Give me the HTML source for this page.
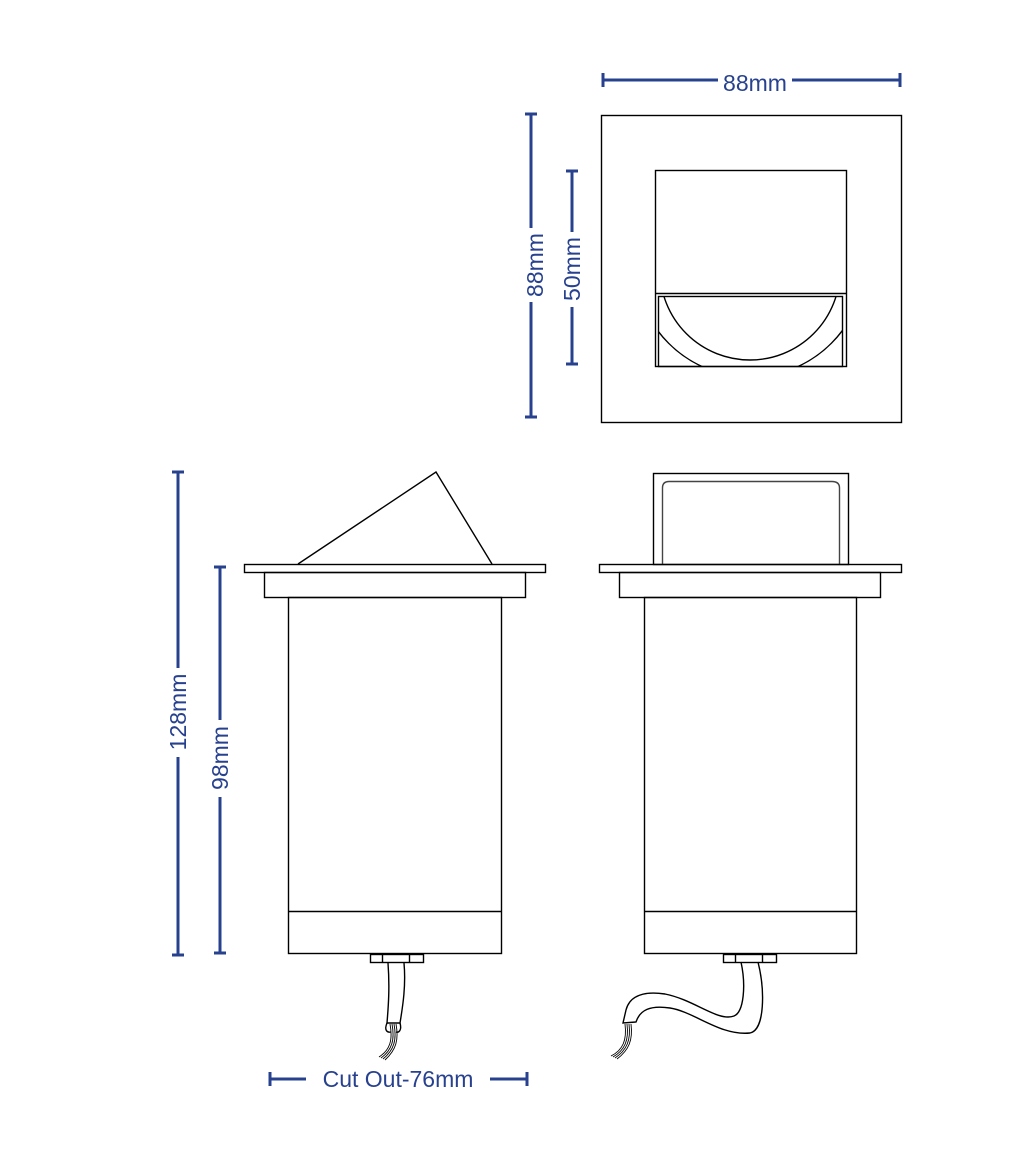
<!DOCTYPE html>
<html><head><style>
html,body{margin:0;padding:0;background:#fff;}
svg{display:block;}
text{font-family:"Liberation Sans",sans-serif;font-size:23px;fill:#27418f;}
</style></head><body>
<svg width="1031" height="1174" viewBox="0 0 1031 1174" xmlns="http://www.w3.org/2000/svg">
<defs><clipPath id="c"><rect x="658" y="296" width="184" height="70"/></clipPath></defs>
<g stroke="#000" stroke-width="1.4" fill="none">
<!-- top view -->
<rect x="601.5" y="115.5" width="300" height="307"/>
<rect x="655.5" y="170.5" width="191" height="196"/>
<line x1="655" y1="293.5" x2="847" y2="293.5"/>
<rect x="658.5" y="296.5" width="184" height="70"/>
<g clip-path="url(#c)">
<circle cx="750" cy="270" r="90"/>
<circle cx="750" cy="262" r="115"/>
</g>
<!-- left side -->
<polyline points="298,564 436,472 492,564"/>
<rect x="244.5" y="564.5" width="301" height="8"/>
<rect x="264.5" y="572.5" width="261" height="25"/>
<rect x="288.5" y="597.5" width="213" height="356"/>
<line x1="288" y1="911.5" x2="501" y2="911.5"/>
<rect x="370.5" y="954.5" width="53" height="8"/>
<line x1="382.5" y1="954" x2="382.5" y2="962"/><line x1="409.5" y1="954" x2="409.5" y2="962"/>
<path d="M388,963 C390,990 388,1010 387,1023 L400,1023 C403,1005 406,985 404,963"/>
<path d="M387,1023 C384,1030 387,1033 391,1032 M400,1023 C402,1030 399,1033 396,1032"/>
<path d="M392,1024 C395,1040 392,1050 381,1058 M394,1024 C397,1040 394,1050 383,1059 M396,1024 C399,1040 396,1050 385,1060 M390,1024 C393,1040 390,1050 379,1057" stroke-width="0.9"/>
<!-- right side -->
<rect x="653.5" y="473.5" width="195" height="91"/>
<path d="M662.5,564 L662.5,488 Q662.5,481.5 669,481.5 L832,481.5 Q839.5,481.5 839.5,488 L839.5,564" stroke="#444"/>
<rect x="599.5" y="564.5" width="302" height="8"/>
<rect x="619.5" y="572.5" width="261" height="25"/>
<rect x="644.5" y="597.5" width="212" height="356"/>
<line x1="644" y1="911.5" x2="856" y2="911.5"/>
<rect x="723.5" y="954.5" width="53" height="8"/>
<line x1="735.5" y1="954" x2="735.5" y2="962"/><line x1="762.5" y1="954" x2="762.5" y2="962"/>
<path d="M741,962 C746,985 744,1012 734,1016 C718,1022 695,1000 665,994 C645,991 630,995 626,1010 L623,1023 L636,1022 C640,1010 650,1005 670,1008 C695,1012 720,1036 750,1033 C765,1030 765,990 758,962"/>
<path d="M627,1024 C629,1040 625,1050 613,1057 M629,1024 C631,1040 627,1050 615,1058 M631,1024 C633,1040 629,1050 617,1059 M625,1024 C627,1040 623,1050 611,1056" stroke-width="0.9"/>
</g>
<!-- dimensions -->
<g stroke="#27418f" stroke-width="3" fill="none">
<line x1="603" y1="80" x2="718" y2="80"/><line x1="792" y1="80" x2="900" y2="80"/>
<line x1="603" y1="73" x2="603" y2="87"/><line x1="900" y1="73" x2="900" y2="87"/>
<line x1="531" y1="114" x2="531" y2="228"/><line x1="531" y1="302" x2="531" y2="417"/>
<line x1="525" y1="114" x2="537" y2="114"/><line x1="525" y1="417" x2="537" y2="417"/>
<line x1="572" y1="171" x2="572" y2="232"/><line x1="572" y1="307" x2="572" y2="364"/>
<line x1="566" y1="171" x2="578" y2="171"/><line x1="566" y1="364" x2="578" y2="364"/>
<line x1="178" y1="472" x2="178" y2="668"/><line x1="178" y1="757" x2="178" y2="955"/>
<line x1="172" y1="472" x2="184" y2="472"/><line x1="172" y1="955" x2="184" y2="955"/>
<line x1="220" y1="567" x2="220" y2="720"/><line x1="220" y1="797" x2="220" y2="953"/>
<line x1="214" y1="567" x2="226" y2="567"/><line x1="214" y1="953" x2="226" y2="953"/>
<line x1="270" y1="1079" x2="306" y2="1079"/><line x1="490" y1="1079" x2="527" y2="1079"/>
<line x1="270" y1="1072" x2="270" y2="1086"/><line x1="527" y1="1072" x2="527" y2="1086"/>
</g>
<text x="755" y="91" text-anchor="middle">88mm</text>
<text transform="translate(543,265) rotate(-90)" text-anchor="middle">88mm</text>
<text transform="translate(580,269) rotate(-90)" text-anchor="middle">50mm</text>
<text transform="translate(186,712) rotate(-90)" text-anchor="middle">128mm</text>
<text transform="translate(228,758) rotate(-90)" text-anchor="middle">98mm</text>
<text x="398" y="1087" text-anchor="middle">Cut Out-76mm</text>
</svg>
</body></html>
